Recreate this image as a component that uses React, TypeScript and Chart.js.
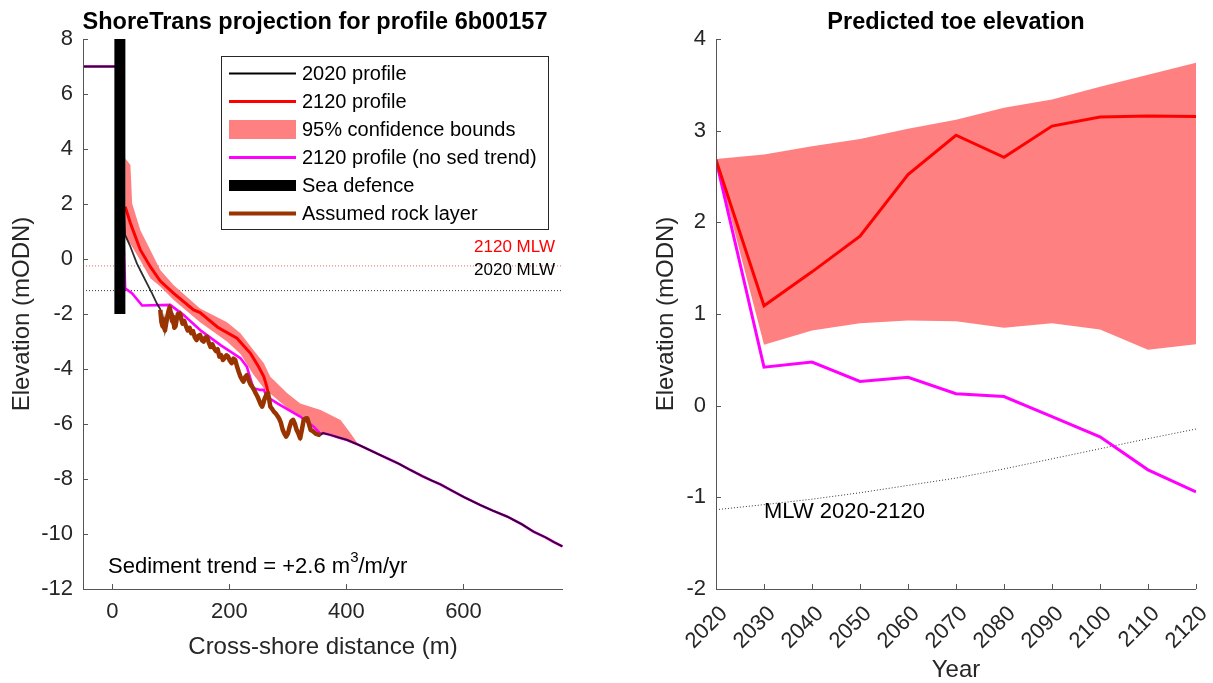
import React, { useEffect, useRef } from 'react';
import { Chart, registerables } from 'chart.js';
Chart.register(...registerables);

// ---------- Left chart: ShoreTrans projection ----------
const leftTitle = 'ShoreTrans projection for profile 6b00157';
const leftXLabel = 'Cross-shore distance (m)';
const yLabel = 'Elevation (mODN)';
const leftXTicks = [0, 200, 400, 600];
const leftYTicks = [-12, -10, -8, -6, -4, -2, 0, 2, 4, 6, 8];

const landX = [-50, 5, 10];
const landY = [7.0, 7.0, 7.1];

const upper2020X = [22, 30, 42, 50, 59, 68, 76, 82];
const upper2020Y = [0.87, 0.5, -0.16, -0.5, -0.88, -1.25, -1.61, -1.83];

const rockX = [82, 84, 86, 88, 90, 92, 94, 96, 98, 100, 102, 104, 106, 108, 110, 112, 114, 116, 118, 120, 123, 126, 129, 132, 135, 138, 141, 144, 147, 150, 153, 156, 159, 162, 165, 168, 171, 174, 177, 180, 183, 186, 189, 192, 195, 198, 201, 204, 207, 210, 213, 216, 219, 222, 224, 227, 230, 233, 236, 239, 242, 245, 248, 251, 254, 256, 258, 260, 262, 264, 266, 268, 270, 273, 276, 279, 282, 285, 288, 291, 294, 297, 300, 303, 306, 309, 312, 315, 318, 321, 324, 327, 330, 333, 336, 339, 342, 345, 348, 351, 356];
const rockY = [-1.85, -2.3, -2.45, -2.2, -2.6, -2.35, -2.1, -1.9, -1.75, -1.95, -2.25, -2.1, -2.5, -2.45, -2.2, -2.0, -2.1, -1.98, -2.2, -2.35, -2.25, -2.45, -2.6, -2.5, -2.7, -2.62, -2.85, -2.95, -2.8, -2.76, -2.95, -3.0, -2.85, -2.83, -3.05, -3.2, -3.1, -3.25, -3.35, -3.28, -3.55, -3.5, -3.67, -3.6, -3.5, -3.55, -3.7, -3.79, -3.62, -3.67, -3.9, -4.1, -4.28, -4.4, -4.46, -4.3, -4.22, -4.4, -4.55, -4.64, -4.75, -4.88, -5.0, -5.15, -5.3, -5.37, -5.25, -5.1, -5.0, -4.9, -4.88, -5.1, -5.37, -5.45, -5.55, -5.61, -5.7, -5.8, -5.95, -6.2, -6.35, -6.46, -6.35, -6.1, -5.9, -5.85, -6.0, -6.22, -6.35, -6.52, -6.2, -5.85, -5.8, -5.79, -6.0, -6.22, -6.25, -6.3, -6.36, -6.38, -6.4];

const offshoreX = [360, 373, 385, 401, 421, 440, 458, 475, 490, 509, 530, 545, 561, 580, 600, 629, 650, 675, 700, 720, 740, 755, 769];
const offshoreY = [-6.33, -6.4, -6.48, -6.58, -6.76, -6.95, -7.13, -7.3, -7.45, -7.67, -7.9, -8.05, -8.2, -8.42, -8.65, -8.95, -9.15, -9.37, -9.65, -9.92, -10.12, -10.3, -10.45];

const profile2120X = [22, 31, 48, 65, 82, 105, 139, 150, 180, 213, 236, 250, 259, 264, 266];
const profile2120Y = [1.9, 1.3, 0.33, -0.28, -0.8, -1.25, -1.85, -1.95, -2.48, -2.88, -3.43, -3.92, -4.28, -4.64, -4.85];

const noSedX = [22, 34, 51, 99, 122, 150, 185, 219, 230, 241, 253, 259, 264, 282, 321, 344, 356];
const noSedY = [-1.07, -1.25, -1.69, -1.67, -2.04, -2.58, -3.13, -3.61, -3.92, -4.7, -4.76, -4.76, -5.0, -5.25, -5.73, -6.1, -6.35];

const bandX = [22, 31, 34, 48, 65, 82, 105, 150, 196, 219, 241, 259, 270, 299, 321, 356, 390, 407, 421];
const bandUpperY = [3.66, 3.42, 2.02, 1.05, 0.33, -0.4, -0.95, -1.8, -2.3, -2.7, -3.31, -3.79, -4.28, -4.88, -5.25, -5.49, -5.85, -6.34, -6.76];
const bandLowerY = [0.81, 0.55, 0.45, -0.05, -0.7, -1.0, -1.49, -2.3, -3.0, -3.45, -4.2, -4.7, -4.9, -5.42, -5.7, -6.28, -6.55, -6.65, -6.76];

const seaDefenceX = [13, 13];
const seaDefenceY = [-2, 8];

const mlw2020Level = -1.15;
const mlw2120Level = -0.25;
const sedimentTrend = '+2.6';

const legendLabels = ['2020 profile', '2120 profile', '95% confidence bounds', '2120 profile (no sed trend)', 'Sea defence', 'Assumed rock layer'];

// ---------- Right chart: Predicted toe elevation ----------
const rightTitle = 'Predicted toe elevation';
const rightXLabel = 'Year';
const years = [2020, 2030, 2040, 2050, 2060, 2070, 2080, 2090, 2100, 2110, 2120];
const rightYTicks = [-2, -1, 0, 1, 2, 3, 4];
const toe2120 = [2.68, 1.09, 1.46, 1.85, 2.52, 2.95, 2.71, 3.05, 3.15, 3.16, 3.155];
const toeUpper = [2.69, 2.74, 2.83, 2.91, 3.02, 3.12, 3.25, 3.34, 3.48, 3.61, 3.74];
const toeLower = [2.68, 0.665, 0.82, 0.9, 0.93, 0.92, 0.85, 0.9, 0.83, 0.61, 0.67];
const toeNoSed = [2.68, 0.42, 0.475, 0.265, 0.31, 0.13, 0.1, -0.12, -0.34, -0.7, -0.94];
const mlwSeries = [-1.135, -1.08, -1.02, -0.95, -0.87, -0.79, -0.69, -0.58, -0.47, -0.36, -0.255];
const mlwLabel = 'MLW 2020-2120';

// ---------- styles ----------
const FONT = '"Liberation Sans", Arial, Helvetica, sans-serif';
const AX = '#262626';
const AXLINE = '#555555';
const BAND = '#ff8080';
const RED = '#ff0000';
const MAG = '#ff00ff';
const ROCK = '#993300';

const pts = (xs: number[], ys: number[]) => xs.map((x, i) => ({ x, y: ys[i] }));

const line = (data: any[], color: string, width: number, extra: any = {}) => ({
  data,
  borderColor: color,
  backgroundColor: color,
  borderWidth: width,
  pointRadius: 0,
  pointHoverRadius: 0,
  tension: 0,
  fill: false,
  ...extra,
});

function scaleCfg(min: number, max: number, tickVals: number[], axis: 'x' | 'y', size: number, rot = 0, pad = 10, offset = 0) {
  return {
    type: 'linear',
    min,
    max,
    afterBuildTicks: (s: any) => {
      s.ticks = tickVals.map((v) => ({ value: v }));
    },
    afterFit: (s: any) => {
      if (axis === 'x') s.height = size;
      else s.width = size;
      s.paddingLeft = 0;
      s.paddingRight = 0;
      s.paddingTop = 0;
      s.paddingBottom = 0;
    },
    grid: { display: false, drawTicks: false },
    border: { display: false },
    ticks: {
      color: AX,
      font: { family: FONT, size: 22 },
      padding: pad,
      labelOffset: offset,
      autoSkip: false,
      minRotation: rot,
      maxRotation: rot,
      callback: (v: any) => String(v),
    },
  };
}

function drawAxes(chart: any, xTicks: number[], yTicks: number[]) {
  const ctx = chart.ctx;
  const { left, right, top, bottom } = chart.chartArea;
  const xs = chart.scales.x;
  const ys = chart.scales.y;
  ctx.save();
  ctx.strokeStyle = AXLINE;
  ctx.lineWidth = 1;
  ctx.beginPath();
  ctx.moveTo(left + 0.5, top);
  ctx.lineTo(left + 0.5, bottom + 0.5);
  ctx.lineTo(right, bottom + 0.5);
  ctx.stroke();
  ctx.beginPath();
  yTicks.forEach((v) => {
    const p = Math.round(ys.getPixelForValue(v)) + 0.5;
    ctx.moveTo(left, p);
    ctx.lineTo(left + 5, p);
  });
  xTicks.forEach((v) => {
    const p = Math.round(xs.getPixelForValue(v)) + 0.5;
    ctx.moveTo(p, bottom);
    ctx.lineTo(p, bottom - 5);
  });
  ctx.stroke();
  ctx.restore();
}

function drawTitles(chart: any, title: string, titleX: number, xLabel: string, xLabelY: number, yLabelX: number) {
  const ctx = chart.ctx;
  const a = chart.chartArea;
  ctx.save();
  ctx.fillStyle = '#000';
  ctx.font = `bold 23.5px ${FONT}`;
  ctx.textAlign = 'center';
  ctx.textBaseline = 'alphabetic';
  ctx.fillText(title, titleX, 29);
  ctx.fillStyle = AX;
  ctx.font = `24px ${FONT}`;
  ctx.textBaseline = 'middle';
  ctx.fillText(xLabel, (a.left + a.right) / 2, xLabelY);
  ctx.translate(yLabelX, (a.top + a.bottom) / 2);
  ctx.rotate(-Math.PI / 2);
  ctx.fillText(yLabel, 0, 0);
  ctx.restore();
}

const leftExtras = {
  id: 'leftExtras',
  afterDraw(chart: any) {
    const ctx = chart.ctx;
    const a = chart.chartArea;
    drawAxes(chart, leftXTicks, leftYTicks);
    drawTitles(chart, leftTitle, (a.left + a.right) / 2 - 8, leftXLabel, 647, 22);

    // MLW labels
    ctx.save();
    ctx.font = `17px ${FONT}`;
    ctx.textAlign = 'right';
    ctx.textBaseline = 'middle';
    ctx.fillStyle = RED;
    ctx.fillText('2120 MLW', a.right - 8, 247);
    ctx.fillStyle = '#000';
    ctx.fillText('2020 MLW', a.right - 8, 270);

    // sediment trend
    ctx.textAlign = 'left';
    ctx.fillStyle = '#000';
    ctx.font = `22px ${FONT}`;
    const base = `Sediment trend = ${sedimentTrend} m`;
    const sx = a.left + 25;
    const sy = 567;
    ctx.fillText(base, sx, sy);
    const w1 = ctx.measureText(base).width;
    ctx.font = `15px ${FONT}`;
    ctx.fillText('3', sx + w1, sy - 9);
    const w2 = ctx.measureText('3').width;
    ctx.font = `22px ${FONT}`;
    ctx.fillText('/m/yr', sx + w1 + w2, sy);

    // legend
    const bx = a.left + 138;
    const by = a.top + 17;
    const bw = 327;
    const bh = 173;
    ctx.fillStyle = '#fff';
    ctx.fillRect(bx, by, bw, bh);
    ctx.strokeStyle = AX;
    ctx.lineWidth = 1;
    ctx.strokeRect(bx + 0.5, by + 0.5, bw, bh);
    const styles = [
      { kind: 'line', color: '#000', width: 2 },
      { kind: 'line', color: RED, width: 3 },
      { kind: 'rect', color: BAND, width: 19 },
      { kind: 'line', color: MAG, width: 3 },
      { kind: 'line', color: '#000', width: 11 },
      { kind: 'line', color: ROCK, width: 4 },
    ];
    ctx.font = `20px ${FONT}`;
    ctx.textBaseline = 'middle';
    legendLabels.forEach((lab, i) => {
      const y = by + 17.5 + i * 28;
      const st = styles[i];
      const x0 = bx + 8;
      const x1 = bx + 75;
      if (st.kind === 'rect') {
        ctx.fillStyle = st.color;
        ctx.fillRect(x0, y - st.width / 2, x1 - x0, st.width);
      } else {
        ctx.strokeStyle = st.color;
        ctx.lineWidth = st.width;
        ctx.lineCap = 'butt';
        ctx.beginPath();
        ctx.moveTo(x0, y);
        ctx.lineTo(x1, y);
        ctx.stroke();
      }
      ctx.fillStyle = '#000';
      ctx.fillText(lab, bx + 81, y + 1);
    });
    ctx.restore();
  },
};

const rightExtras = {
  id: 'rightExtras',
  afterDraw(chart: any) {
    const ctx = chart.ctx;
    const a = chart.chartArea;
    drawAxes(chart, years, rightYTicks);
    drawTitles(chart, rightTitle, (a.left + a.right) / 2, rightXLabel, 670, 66);
    ctx.save();
    ctx.font = `22px ${FONT}`;
    ctx.fillStyle = '#000';
    ctx.textAlign = 'left';
    ctx.textBaseline = 'middle';
    ctx.fillText(mlwLabel, chart.scales.x.getPixelForValue(years[1]), chart.scales.y.getPixelForValue(-1.16));
    ctx.restore();
  },
};

function leftConfig(): any {
  const land = pts(landX, landY);
  const offshore = pts(offshoreX, offshoreY);
  const profile2020 = [...land, ...pts(upper2020X, upper2020Y), ...pts(rockX, rockY), ...offshore];
  const noSed = [...land, ...pts(noSedX, noSedY), ...offshore];
  return {
    type: 'line',
    data: {
      datasets: [
        line(pts(seaDefenceX, seaDefenceY), '#000', 11, { borderCapStyle: 'butt' }),
        line(pts(rockX, rockY), ROCK, 4.5, { borderJoinStyle: 'round' }),
        line(profile2020, 'rgba(0,0,0,0.82)', 1.8),
        line(noSed, MAG, 2.6),
        line(pts(profile2120X, profile2120Y), RED, 3),
        line(pts(bandX, bandUpperY), BAND, 0, { fill: { target: 6 }, backgroundColor: BAND }),
        line(pts(bandX, bandLowerY), BAND, 0),
        line(pts([-50, 770], [mlw2120Level, mlw2120Level]), 'rgba(220,60,60,0.8)', 1, { borderDash: [1, 2] }),
        line(pts([-50, 770], [mlw2020Level, mlw2020Level]), '#333', 1, { borderDash: [1, 2] }),
      ],
    },
    options: {
      responsive: false,
      animation: false,
      events: [],
      layout: { padding: { left: 0, top: 39, right: 37, bottom: 0 } },
      plugins: { legend: { display: false }, tooltip: { enabled: false }, title: { display: false } },
      scales: {
        x: scaleCfg(-50, 770, leftXTicks, 'x', 94, 0, 10),
        y: scaleCfg(-12, 8, leftYTicks, 'y', 83, 0, 10),
      },
    },
    plugins: [leftExtras],
  };
}

function rightConfig(): any {
  return {
    type: 'line',
    data: {
      datasets: [
        line(pts(years, toe2120), RED, 3),
        line(pts(years, toeNoSed), MAG, 3),
        line(pts(years, mlwSeries), '#333', 1, { borderDash: [1, 2] }),
        line(pts(years, toeUpper), BAND, 0, { fill: { target: 4 }, backgroundColor: BAND }),
        line(pts(years, toeLower), BAND, 0),
      ],
    },
    options: {
      responsive: false,
      animation: false,
      events: [],
      layout: { padding: { left: 0, top: 39, right: 17, bottom: 0 } },
      plugins: { legend: { display: false }, tooltip: { enabled: false }, title: { display: false } },
      scales: {
        x: scaleCfg(2020, 2120, years, 'x', 94, 45, 12, 8),
        y: scaleCfg(-2, 4, rightYTicks, 'y', 116, 0, 10),
      },
    },
    plugins: [rightExtras],
  };
}

export default function App() {
  const leftRef = useRef<HTMLCanvasElement>(null);
  const rightRef = useRef<HTMLCanvasElement>(null);
  useEffect(() => {
    const charts: Chart[] = [];
    if (leftRef.current) charts.push(new Chart(leftRef.current, leftConfig()));
    if (rightRef.current) charts.push(new Chart(rightRef.current, rightConfig()));
    return () => charts.forEach((c) => c.destroy());
  }, []);
  return (
    <div style={{ position: 'fixed', left: 0, top: 0, width: 1213, height: 683, background: '#fff', overflow: 'hidden' }}>
      <canvas ref={leftRef} width={600} height={683} style={{ position: 'absolute', left: 0, top: 0 }} />
      <canvas ref={rightRef} width={613} height={683} style={{ position: 'absolute', left: 600, top: 0 }} />
    </div>
  );
}
